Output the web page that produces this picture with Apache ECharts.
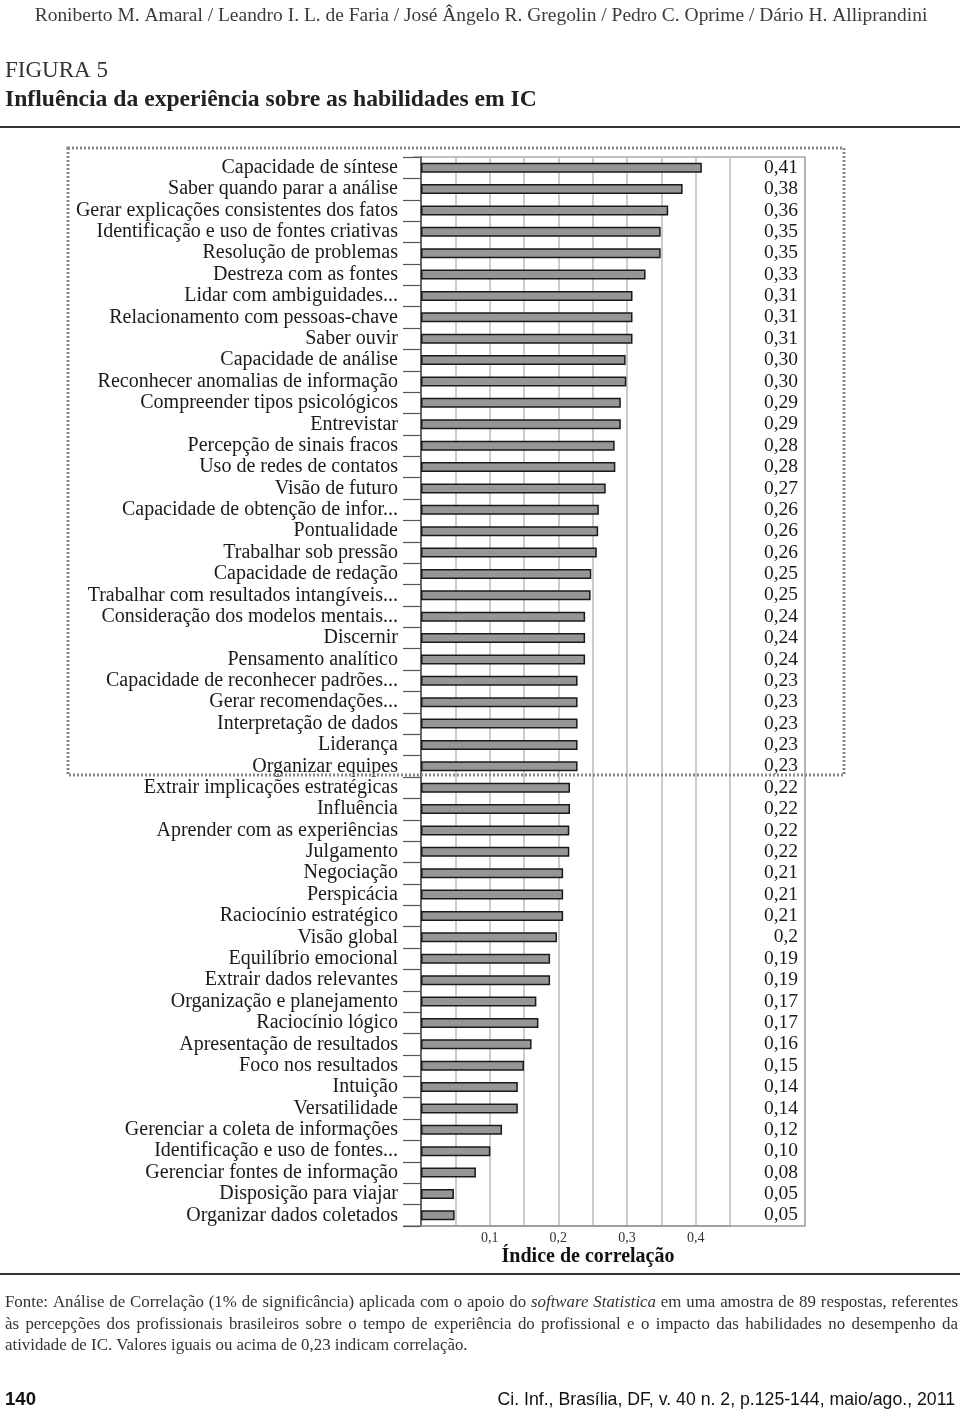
<!DOCTYPE html>
<html><head><meta charset="utf-8">
<script src="https://cdn.jsdelivr.net/npm/echarts@6/dist/echarts.min.js"></script>
<style>html,body{margin:0;padding:0;background:#fff}#c{width:960px;height:1413px}</style>
</head><body><div id="c"></div>
<script>
const categories = [
  "Capacidade de síntese","Saber quando parar a análise","Gerar explicações consistentes dos fatos",
  "Identificação e uso de fontes criativas","Resolução de problemas","Destreza com as fontes",
  "Lidar com ambiguidades...","Relacionamento com pessoas-chave","Saber ouvir","Capacidade de análise",
  "Reconhecer anomalias de informação","Compreender tipos psicológicos","Entrevistar",
  "Percepção de sinais fracos","Uso de redes de contatos","Visão de futuro",
  "Capacidade de obtenção de infor...","Pontualidade","Trabalhar sob pressão","Capacidade de redação",
  "Trabalhar com resultados intangíveis...","Consideração dos modelos mentais...","Discernir",
  "Pensamento analítico","Capacidade de reconhecer padrões...","Gerar recomendações...",
  "Interpretação de dados","Liderança","Organizar equipes","Extrair implicações estratégicas",
  "Influência","Aprender com as experiências","Julgamento","Negociação","Perspicácia",
  "Raciocínio estratégico","Visão global","Equilíbrio emocional","Extrair dados relevantes",
  "Organização e planejamento","Raciocínio lógico","Apresentação de resultados","Foco nos resultados",
  "Intuição","Versatilidade","Gerenciar a coleta de informações","Identificação e uso de fontes...",
  "Gerenciar fontes de informação","Disposição para viajar","Organizar dados coletados"
];
const values = [
  0.409,0.381,0.360,0.349,0.349,0.327,0.308,0.308,0.308,0.298,
  0.299,0.291,0.291,0.282,0.283,0.269,0.259,0.258,0.256,0.248,
  0.247,0.239,0.239,0.239,0.228,0.228,0.228,0.228,0.228,0.217,
  0.217,0.216,0.216,0.207,0.207,0.207,0.198,0.188,0.188,0.168,
  0.171,0.161,0.150,0.141,0.141,0.118,0.101,0.080,0.048,0.049
];
const valueLabels = [
  "0,41","0,38","0,36","0,35","0,35","0,33","0,31","0,31","0,31","0,30",
  "0,30","0,29","0,29","0,28","0,28","0,27","0,26","0,26","0,26","0,25",
  "0,25","0,24","0,24","0,24","0,23","0,23","0,23","0,23","0,23","0,22",
  "0,22","0,22","0,22","0,21","0,21","0,21","0,2","0,19","0,19","0,17",
  "0,17","0,16","0,15","0,14","0,14","0,12","0,10","0,08","0,05","0,05"
];
const xTicks = [0.1, 0.2, 0.3, 0.4];
const xTickLabels = ["0,1", "0,2", "0,3", "0,4"];

const headerText = "Roniberto M. Amaral / Leandro I. L. de Faria / José Ângelo R. Gregolin / Pedro C. Oprime / Dário H. Alliprandini";
const figLabel = "FIGURA 5";
const figTitle = "Influência da experiência sobre as habilidades em IC";
const axisTitle = "Índice de correlação";
const footLines = [
  "Fonte: Análise de Correlação (1% de significância) aplicada com o apoio do *software *Statistica em uma amostra de 89 respostas, referentes",
  "às percepções dos profissionais brasileiros sobre o tempo de experiência do profissional e o impacto das habilidades no desempenho da",
  "atividade de IC. Valores iguais ou acima de 0,23 indicam correlação."
];
const pageNum = "140";
const citation = "Ci. Inf., Brasília, DF, v. 40 n. 2, p.125-144, maio/ago., 2011";

const SERIF = "'Liberation Serif','Times New Roman',serif";
const SANS = "'Liberation Sans',Arial,sans-serif";
const mctx = document.createElement('canvas').getContext('2d');
function measure(text, style, weight, size, fam) {
  mctx.font = `${style} ${weight} ${size}px ${fam}`;
  return mctx.measureText(text).width;
}
function fitSize(text, style, weight, fam, target) {
  const w = measure(text, style, weight, 100, fam);
  return 100 * target / w;
}
function textEl(text, x, y, size, opts) {
  opts = opts || {};
  return {
    type: 'text', x: x, y: y, silent: true,
    style: {
      text: text, fill: opts.fill || '#222',
      font: `${opts.style || 'normal'} ${opts.weight || 'normal'} ${size}px ${opts.fam || SERIF}`,
      textAlign: opts.align || 'left', textVerticalAlign: 'middle'
    }
  };
}

const graphics = [];
// header
const hSize = fitSize(headerText, 'normal', 'normal', SERIF, 893);
graphics.push(textEl(headerText, 481, 16, hSize, {align: 'center', fill: '#3a3a3a'}));
const fSize = fitSize(figLabel, 'normal', 'normal', SERIF, 103);
graphics.push(textEl(figLabel, 5, 71, fSize, {fill: '#333'}));
const tSize = fitSize(figTitle, 'normal', 'bold', SERIF, 532);
graphics.push(textEl(figTitle, 5, 100, tSize, {weight: 'bold', fill: '#222'}));
graphics.push({type: 'rect', shape: {x: 0, y: 126, width: 960, height: 2}, style: {fill: '#333'}, silent: true});
graphics.push({type: 'rect', shape: {x: 0, y: 1273, width: 960, height: 2}, style: {fill: '#333'}, silent: true});

// dotted box
graphics.push({type: 'rect', shape: {x: 68, y: 148, width: 776, height: 627},
  style: {fill: 'none', stroke: '#888', lineWidth: 3, lineDash: [2, 2]}, silent: true, z: 10});
// plot frame extra lines
graphics.push({type: 'line', shape: {x1: 413, y1: 157, x2: 805, y2: 157}, style: {stroke: '#aaa', lineWidth: 1.5}, silent: true});
graphics.push({type: 'line', shape: {x1: 403, y1: 1226, x2: 805, y2: 1226}, style: {stroke: '#999', lineWidth: 1.5}, silent: true});

// axis title
graphics.push(textEl(axisTitle, 588, 1257, 20, {weight: 'bold', fill: '#111', align: 'center'}));

// footer justified
const footSize = fitSize(footLines[2], 'normal', 'normal', SERIF, 463);
const footY = [1303, 1325, 1346];
footLines.forEach((line, li) => {
  const words = line.split(' ').filter(w => w.length);
  const parts = words.map(w => {
    let it = false, t = w;
    if (t.startsWith('*')) { it = true; t = t.slice(1); }
    return {t: t, s: it ? 'italic' : 'normal'};
  });
  parts.forEach(p => { p.w = measure(p.t, p.s, 'normal', footSize, SERIF); });
  const total = parts.reduce((a, p) => a + p.w, 0);
  const justify = li < 2;
  const gap = justify ? (958 - 5 - total) / (parts.length - 1) : measure(' ', 'normal', 'normal', footSize, SERIF);
  let x = 5;
  parts.forEach(p => {
    graphics.push(textEl(p.t, x, footY[li], footSize, {style: p.s, fill: '#333'}));
    x += p.w + gap;
  });
});
const pSize = fitSize(pageNum, 'normal', 'bold', SANS, 31);
graphics.push(textEl(pageNum, 5, 1400, pSize, {weight: 'bold', fam: SANS, fill: '#111'}));
const cSize = fitSize(citation, 'normal', 'normal', SANS, 458);
graphics.push(textEl(citation, 955, 1400, cSize, {fam: SANS, fill: '#111', align: 'right'}));

const chart = echarts.init(document.getElementById('c'), null, {renderer: 'canvas'});
chart.setOption({
  backgroundColor: '#fff',
  animation: false,
  grid: {left: 421, top: 157, width: 309, height: 1069, containLabel: false},
  xAxis: {
    type: 'value', min: 0, max: 0.45, interval: 0.05,
    axisLine: {show: true, lineStyle: {color: '#999', width: 1.5}},
    axisTick: {show: false},
    splitLine: {show: true, lineStyle: {color: '#bbb', width: 1.5}},
    axisLabel: {
      margin: 5, fontSize: 14, fontFamily: SERIF, color: '#333',
      formatter: v => {
        const i = xTicks.findIndex(t => Math.abs(t - v) < 1e-6);
        return i >= 0 ? xTickLabels[i] : '';
      }
    }
  },
  yAxis: [
    {
      type: 'category', inverse: true, data: categories,
      axisLine: {show: true, lineStyle: {color: '#444', width: 1.5}},
      axisTick: {show: true, interval: 0, length: 18, lineStyle: {color: '#555', width: 1.2}},
      axisLabel: {interval: 0, margin: 23, fontSize: 20, fontFamily: SERIF, color: '#1a1a1a'}
    },
    {
      type: 'category', inverse: true, data: valueLabels, position: 'right', offset: 75,
      axisLine: {show: true, lineStyle: {color: '#999', width: 1.5}},
      axisTick: {show: false},
      axisLabel: {interval: 0, inside: true, margin: 7, fontSize: 19.5, fontFamily: SERIF, color: '#1a1a1a'}
    }
  ],
  series: [{
    type: 'bar', data: values, yAxisIndex: 0, barWidth: 10,
    itemStyle: {color: '#969696', borderColor: '#1a1a1a', borderWidth: 1.5},
    silent: true
  }],
  graphic: {elements: graphics}
});
</script></body></html>
